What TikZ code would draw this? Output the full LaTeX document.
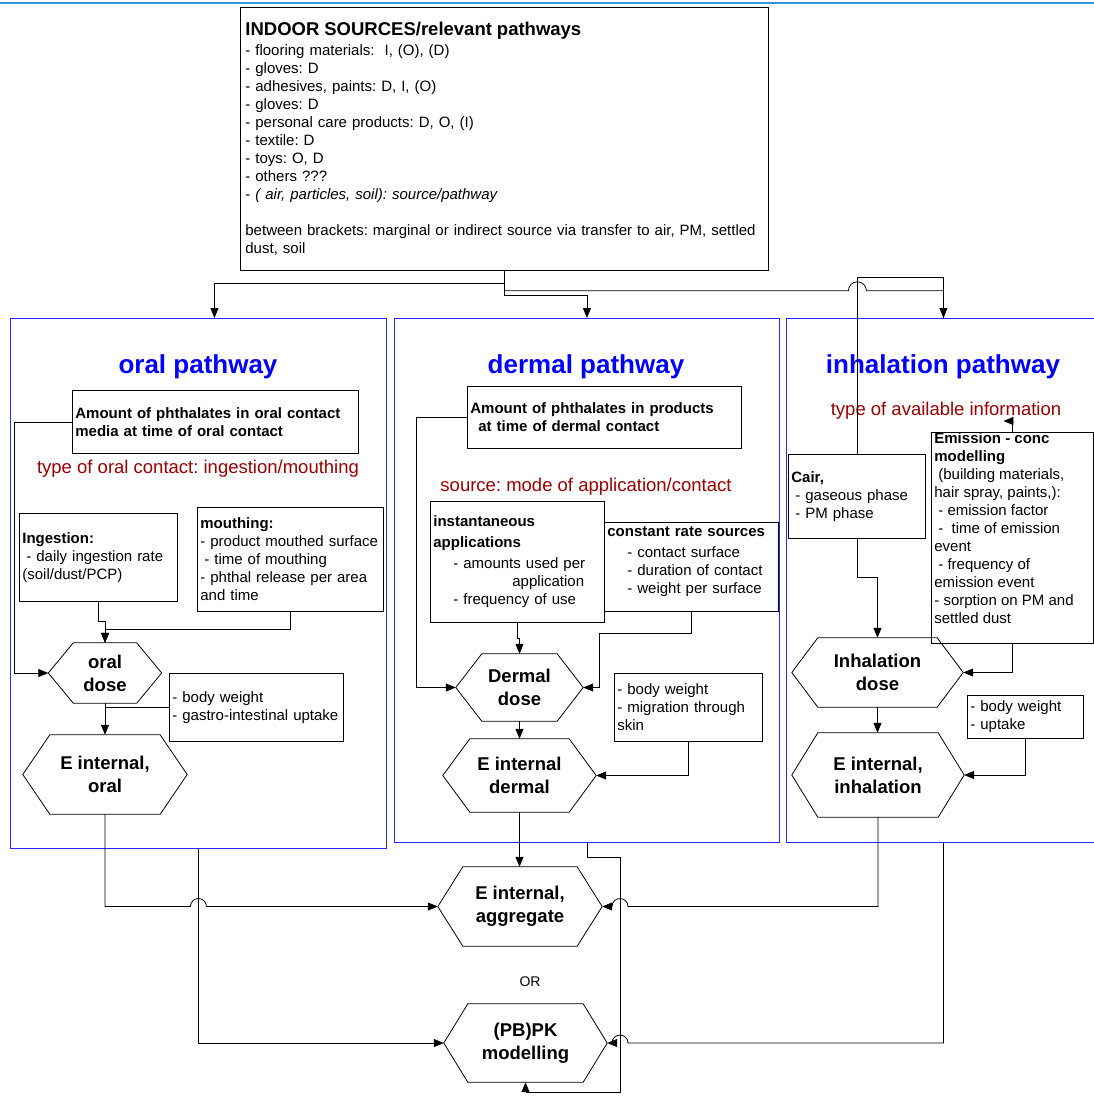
\documentclass[tikz,border=0pt]{standalone}
\usepackage{fontspec}
\setmainfont{Liberation Sans}
\usetikzlibrary{arrows.meta,calc}
\frenchspacing
\definecolor{panelblue}{RGB}{40,40,255}
\definecolor{titleblue}{RGB}{0,0,255}
\definecolor{darkred}{RGB}{153,0,0}
\definecolor{topblue}{RGB}{51,153,214}
\newcommand{\bodyfnt}{\fontsize{15}{18}\selectfont}
\newcommand{\hexfnt}{\fontsize{18.5}{23}\selectfont\bfseries}
\newcommand{\myhex}[7]{%
  \node[hexlabel, minimum width=#4pt, minimum height=#5pt] (#1) at (#2,#3) {#7};
  \draw[hexline] (#1.west) -- ([xshift=#6pt]#1.north west) -- ([xshift=-#6pt]#1.north east) -- (#1.east) -- ([xshift=-#6pt]#1.south east) -- ([xshift=#6pt]#1.south west) -- cycle;}
\begin{document}
\begin{tikzpicture}[x=1pt,y=-1pt,
  line/.style={line width=0.8pt, draw=black},
  arr/.style={line, -{Triangle[length=10pt,width=8pt]}},
  infobox/.style={draw, line width=0.8pt, anchor=north west, inner xsep=3pt, inner ysep=0pt, align=left, font=\bodyfnt},
  panel/.style={draw=panelblue, line width=0.9pt, anchor=north west, inner sep=0pt},
  hexlabel/.style={inner sep=0pt, align=center, font=\hexfnt},
  hexline/.style={line width=0.8pt},
  ptitle/.style={font=\fontsize{26}{30}\selectfont\bfseries, text=titleblue, inner sep=0pt},
  rtext/.style={font=\fontsize{18.5}{22}\selectfont, text=darkred, inner sep=0pt}]

\useasboundingbox (0,0) rectangle (1094,1096);
\fill[white] (0,0) rectangle (1094,1096);
\draw[topblue, line width=2.5pt] (0,3) -- (1094,3);

% panels
\node[panel, minimum width=376pt, minimum height=530pt] (opanel) at (10,318) {};
\node[panel, minimum width=385pt, minimum height=524pt] (dpanel) at (394,318) {};
\node[panel, minimum width=314pt, minimum height=524pt] (ipanel) at (786,318) {};

\node[ptitle] (otitle) at (198,367) {oral pathway};
\node[ptitle] (dtitle) at (586,367) {dermal pathway};
\node[ptitle] (ititle) at (943,367) {inhalation pathway};

\node[rtext] (otype) at (198,469) {type of oral contact: ingestion/mouthing};
\node[rtext] (dtype) at (586,487) {source: mode of application/contact};
\node[rtext] (itype) at (946,411) {type of available information};

% top box
\node[infobox, inner xsep=5pt, minimum width=528pt, minimum height=263pt, text width=518pt] (top) at (240,7)
{{\fontsize{18.5}{20}\selectfont\bfseries INDOOR SOURCES/relevant pathways}\\[2pt]
- flooring materials:\ \ I, (O), (D)\\
- gloves: D\\
- adhesives, paints: D, I, (O)\\
- gloves: D\\
- personal care products: D, O, (I)\\
- textile: D\\
- toys: O, D\\
- others ???\\
- \textit{( air, particles, soil): source/pathway}\\[18pt]
between brackets: marginal or indirect source via transfer to air, PM, settled\\
dust, soil};

% oral boxes
\node[infobox, minimum width=286pt, minimum height=63pt, text width=280pt, font=\bodyfnt\bfseries] (amo) at (72,390)
{Amount of phthalates in oral contact\\ media at time of oral contact};
\node[infobox, minimum width=158pt, minimum height=88pt, text width=152pt] (ing) at (19,513)
{\textbf{Ingestion:}\\ \hspace*{4pt}- daily ingestion rate\\ (soil/dust/PCP)};
\node[infobox, minimum width=186pt, minimum height=104pt, text width=180pt] (mouth) at (197,507)
{\textbf{mouthing:}\\ - product mouthed surface\\ \hspace*{4pt}- time of mouthing\\ - phthal release per area\\ and time};
\node[infobox, minimum width=174pt, minimum height=68pt, text width=168pt] (bwo) at (169,673)
{- body weight\\ - gastro-intestinal uptake};

% dermal boxes
\node[infobox, minimum width=274pt, minimum height=62pt, text width=268pt, font=\bodyfnt\bfseries] (amd) at (467,386)
{Amount of phthalates in products\\ \hspace*{8pt}at time of dermal contact};
\node[infobox, minimum width=174pt, minimum height=121pt, text width=168pt] (inst) at (430,501)
{\textbf{instantaneous}\\[3pt] \textbf{applications}\\[3pt] \hspace*{20pt}- amounts used per\\ \hspace*{79pt}application\\ \hspace*{20pt}- frequency of use};
\node[infobox, minimum width=174pt, minimum height=89pt, text width=168pt] (const) at (604,522)
{\textbf{constant rate sources}\\[3pt] \hspace*{20pt}- contact surface\\ \hspace*{20pt}- duration of contact\\ \hspace*{20pt}- weight per surface\\[-4pt] \mbox{}};
\node[infobox, minimum width=148pt, minimum height=68pt, text width=142pt] (bwd) at (614,673)
{- body weight\\ - migration through\\ skin};

% inhalation boxes
\node[infobox, minimum width=137pt, minimum height=84pt, text width=131pt] (cair) at (788,454)
{\textbf{Cair,}\\ \hspace*{4pt}- gaseous phase\\ \hspace*{4pt}- PM phase};
\node[draw, line width=0.8pt, anchor=north west, inner xsep=3pt, inner ysep=0pt, font=\bodyfnt] (emis) at (931,432)
{\begin{minipage}[c][211pt][t]{156pt}\raggedright
\textbf{Emission - conc}\\ \textbf{modelling}\\ \hspace*{4pt}(building materials,\\ hair spray, paints,):\\ \hspace*{4pt}- emission factor\\ \hspace*{4pt}-\ \ time of emission\\ event\\ \hspace*{4pt}- frequency of\\ emission event\\ - sorption on PM and\\ settled dust
\end{minipage}};
\node[infobox, minimum width=116pt, minimum height=43pt, text width=110pt] (bwi) at (967,695)
{- body weight\\ - uptake};

% hexagons
\myhex{odose}{105}{673}{113}{60}{25}{oral\\dose}
\myhex{eio}{105}{774.5}{164}{79}{27}{E internal,\\oral}
\myhex{ddose}{519.5}{687.5}{127}{67}{26}{Dermal\\dose}
\myhex{eid}{519.5}{775.5}{153}{73}{27}{E internal\\dermal}
\myhex{idose}{877.5}{672.5}{171}{69}{26}{Inhalation\\dose}
\myhex{eii}{878}{775}{172}{84}{26}{E internal,\\inhalation}
\myhex{agg}{520}{906.5}{164}{79}{25}{E internal,\\aggregate}
\myhex{pbpk}{525.5}{1043}{163}{78}{24}{(PB)PK\\modelling}

\node[font=\fontsize{14}{16}\selectfont, inner sep=0pt] (ortext) at (530,982) {OR};

% top connectors
\draw[arr] (top.south) -- ++(0,13) -| ($(opanel.north)+(16,0)$);
\draw[arr] (top.south) -- ++(0,25) -| (dpanel.north);
\draw[arr] (top.south) -- ++(0,20) -- ++(344,0) arc (180:360:9) -| (ipanel.north);
\draw[line] (cair.north) -- ++(0,-177) -| (ipanel.north);
\draw[arr] (emis.north) -- ++(0,-11) -- ++(-9,0);

% oral connectors
\draw[arr] (amo.west) -- ++(-58,0) |- (odose.west);
\draw[arr] (ing.south) -- ++(0,20) -| (odose.north);
\draw[arr] (mouth.south) -- ++(0,18) -| (odose.north);
\draw[arr] (odose.south) -- (eio.north);
\draw[line] (bwo.west) -- (bwo.west -| odose.south);
\draw[arr] (eio.south) -- (eio.south |- agg.west) -- ($(opanel.south |- agg.west)+(-8,0)$) arc (180:360:8) -- (agg.west);
\draw[arr] (opanel.south) |- (pbpk.west);

% dermal connectors
\draw[arr] (amd.west) -- ++(-51,0) |- (ddose.west);
\draw[arr] (inst.south) -- ++(0,16) -| (ddose.north);
\draw[arr] (const.south) -- ++(0,22) -- ++(-92,0) |- (ddose.east);
\draw[arr] (ddose.south) -- (eid.north);
\draw[arr] (bwd.south) |- (eid.east);
\draw[arr] (eid.south) -- (eid.south |- agg.north);
\coordinate (dr) at (620,1092);
\draw[arr] (dpanel.south) -- ++(0,14) -| (dr) -| (pbpk.south);

% inhalation connectors
\draw[arr] (cair.south) -- ++(0,39) -| (idose.north);
\draw[arr] (emis.south) |- (idose.east);
\draw[arr] (idose.south) -- (idose.south |- eii.north);
\draw[arr] (bwi.south) |- (eii.east);
\draw[arr] (eii.south) -- (eii.south |- agg.east) -- ($(dr |- agg.east)+(8,0)$) arc (360:180:8) -- (agg.east);
\draw[arr] (ipanel.south) -- (ipanel.south |- pbpk.east) -- ($(dr |- pbpk.east)+(8,0)$) arc (360:180:8) -- (pbpk.east);
\end{tikzpicture}
\end{document}
